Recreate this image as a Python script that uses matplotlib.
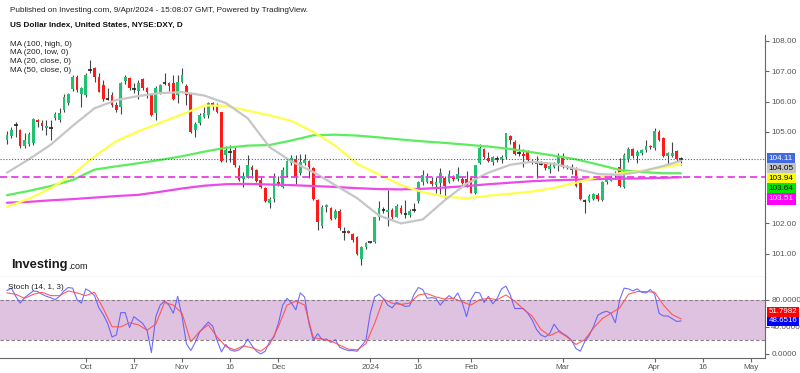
import matplotlib
matplotlib.use("Agg")
import matplotlib.pyplot as plt
import numpy as np
import pandas as pd

plt.rcParams["font.family"] = ["Liberation Sans", "DejaVu Sans"]

# daily DXY candles, 2023-09-06 .. 2024-04-09 (weekday bars)
first_day = "2023-09-06"
opens = [
    104.73, 104.88, 105.25, 105.06, 104.55, 104.60, 104.62, 105.39, 105.30, 105.12,
    105.14, 105.45, 105.39, 105.72, 105.94, 106.40, 106.82, 106.24, 106.21, 107.04,
    107.09, 106.82, 106.54, 106.10, 106.21, 105.89, 105.83, 106.67, 106.76, 106.43,
    106.35, 106.73, 106.43, 106.24, 105.61, 106.30, 106.60, 106.60, 106.60, 106.21,
    106.65, 106.52, 106.24, 105.06, 105.28, 105.50, 105.56, 105.94, 105.83, 105.64,
    104.24, 104.36, 104.40, 103.80, 103.45, 103.53, 103.86, 103.75, 103.42, 103.14,
    102.65, 102.79, 103.36, 103.20, 103.56, 103.97, 104.11, 103.64, 103.97, 104.04,
    103.80, 102.76, 101.92, 102.54, 102.49, 102.16, 102.40, 101.73, 101.74, 101.64,
    101.55, 100.81, 101.20, 101.36, 101.39, 102.19, 102.44, 102.38, 102.43, 102.21,
    102.49, 102.30, 102.26, 102.41, 102.74, 103.36, 103.36, 103.38, 103.25, 103.31,
    103.47, 103.36, 103.52, 103.44, 103.44, 103.44, 103.50, 102.98, 103.97, 104.43,
    104.13, 104.02, 104.13, 104.10, 104.16, 104.86, 104.68, 104.30, 104.28, 104.35,
    104.04, 103.97, 103.97, 103.97, 103.77, 103.86, 103.97, 104.13, 103.86, 103.86,
    103.80, 103.33, 102.75, 102.73, 102.78, 102.92, 102.76, 103.36, 103.40, 103.55,
    103.86, 103.20, 104.10, 104.43, 104.21, 104.30, 104.40, 104.54, 104.46, 105.01,
    104.79, 104.22, 104.21, 104.37, 104.14,
]
highs = [
    105.03, 105.17, 105.34, 105.10, 104.95, 105.01, 105.45, 105.41, 105.39, 105.39,
    105.39, 105.67, 105.78, 106.24, 106.27, 106.87, 106.87, 106.49, 106.93, 107.37,
    107.15, 106.93, 106.71, 106.43, 106.32, 105.99, 106.65, 106.87, 106.82, 106.60,
    106.71, 106.76, 106.49, 106.27, 106.52, 106.57, 106.93, 106.65, 106.87, 106.87,
    107.11, 106.57, 106.24, 105.34, 105.61, 105.83, 105.99, 106.00, 105.94, 105.67,
    104.55, 104.57, 104.55, 103.91, 103.69, 104.24, 103.91, 103.78, 103.53, 103.20,
    102.87, 103.64, 103.56, 103.86, 104.07, 104.24, 104.24, 104.26, 104.26, 104.07,
    103.86, 102.79, 102.60, 102.62, 102.54, 102.47, 102.47, 101.88, 101.76, 101.66,
    101.57, 101.25, 101.39, 101.38, 102.21, 102.74, 102.54, 103.09, 102.49, 102.62,
    102.60, 102.75, 102.47, 102.67, 103.39, 103.75, 103.66, 103.53, 103.52, 103.82,
    103.56, 103.75, 103.58, 103.86, 103.55, 103.70, 103.55, 103.92, 104.60, 104.48,
    104.35, 104.20, 104.20, 104.25, 104.98, 104.90, 104.75, 104.60, 104.45, 104.40,
    104.10, 104.20, 104.05, 104.00, 103.97, 104.02, 104.30, 104.32, 103.92, 103.95,
    103.85, 103.35, 102.80, 102.95, 103.00, 102.98, 103.40, 103.50, 103.65, 103.70,
    104.13, 104.30, 104.50, 104.48, 104.40, 104.45, 104.75, 104.58, 105.12, 105.05,
    104.82, 104.35, 104.68, 104.40, 104.19,
]
lows = [
    104.59, 104.81, 104.84, 104.46, 104.48, 104.55, 104.57, 105.17, 105.06, 104.90,
    104.73, 105.39, 105.34, 105.67, 105.89, 106.35, 106.32, 105.83, 106.16, 106.93,
    106.65, 106.30, 106.02, 106.05, 105.83, 105.67, 105.58, 106.57, 106.38, 106.27,
    106.07, 106.38, 106.13, 105.52, 105.39, 106.24, 106.54, 106.35, 106.05, 105.94,
    106.60, 105.90, 104.95, 104.84, 105.23, 105.45, 105.45, 105.72, 105.61, 104.02,
    104.00, 104.02, 103.86, 103.39, 103.20, 103.50, 103.47, 103.36, 103.14, 102.71,
    102.49, 102.71, 103.23, 103.17, 103.53, 103.91, 103.28, 103.58, 103.91, 103.50,
    102.76, 101.77, 101.83, 102.38, 102.10, 102.14, 101.77, 101.44, 101.66, 101.39,
    100.95, 100.62, 101.14, 101.34, 101.36, 102.10, 102.32, 101.92, 102.12, 102.19,
    102.30, 102.16, 102.20, 102.36, 102.67, 103.25, 103.33, 103.22, 102.98, 102.96,
    102.81, 103.31, 103.38, 103.40, 103.28, 103.20, 102.98, 102.95, 103.95, 104.10,
    104.00, 103.92, 104.00, 103.98, 104.10, 104.60, 104.25, 104.20, 103.85, 104.05,
    103.95, 103.47, 103.90, 103.75, 103.65, 103.80, 103.70, 103.82, 103.78, 103.60,
    103.20, 102.76, 102.34, 102.70, 102.75, 102.74, 102.72, 103.30, 103.38, 103.45,
    103.18, 103.15, 104.00, 104.15, 103.99, 104.25, 104.35, 104.45, 104.42, 104.70,
    104.18, 103.91, 104.18, 104.05, 103.91,
]
closes = [
    104.90, 105.06, 105.24, 104.55, 104.73, 104.92, 105.42, 105.34, 105.21, 105.21,
    105.13, 105.58, 105.61, 106.16, 106.24, 106.82, 106.38, 106.43, 106.89, 107.03,
    106.82, 106.32, 106.07, 106.09, 105.89, 105.72, 106.60, 106.82, 106.43, 106.42,
    106.60, 106.43, 106.32, 105.56, 106.43, 106.54, 106.61, 106.52, 106.10, 106.65,
    106.89, 106.20, 105.01, 105.25, 105.56, 105.61, 105.94, 105.86, 105.67, 104.04,
    104.40, 104.35, 103.91, 103.42, 103.56, 103.91, 103.75, 103.39, 103.20, 102.73,
    102.79, 103.47, 103.25, 103.75, 104.04, 104.15, 103.53, 104.02, 104.07, 103.86,
    102.81, 102.05, 102.54, 102.60, 102.14, 102.40, 101.83, 101.72, 101.68, 101.44,
    100.97, 101.20, 101.33, 101.37, 102.19, 102.50, 102.43, 102.44, 102.19, 102.56,
    102.34, 102.29, 102.41, 102.42, 103.36, 103.58, 103.55, 103.29, 103.36, 103.64,
    103.22, 103.60, 103.44, 103.61, 103.31, 103.25, 103.00, 103.91, 104.46, 104.18,
    104.05, 104.16, 104.12, 104.16, 104.95, 104.73, 104.29, 104.31, 104.22, 104.08,
    103.99, 103.93, 103.96, 103.80, 103.88, 103.99, 104.21, 103.86, 103.80, 103.75,
    103.22, 102.78, 102.74, 102.89, 102.96, 102.78, 103.36, 103.44, 103.47, 103.58,
    103.23, 104.25, 104.45, 104.21, 104.35, 104.40, 104.54, 104.49, 105.04, 104.75,
    104.21, 104.30, 104.30, 104.10, 104.11,
]

# moving averages read every 5 bars
ma_bars = list(range(0, 151, 5)) + [154]
ma_gray = [103.66, 104.10, 104.58, 105.20, 105.78, 106.05, 106.18, 106.28, 106.31, 106.20,
           105.95, 105.45, 104.50, 104.03, 103.68, 103.25, 102.82, 102.25, 101.99, 102.12,
           102.75, 103.30, 103.66, 103.92, 104.02, 103.95, 103.78, 103.62, 103.58, 103.70,
           103.88, 104.05]
ma_yellow = [102.54, 102.80, 103.15, 103.60, 104.20, 104.70, 105.02, 105.30, 105.58, 105.87,
             105.86, 105.70, 105.55, 105.36, 105.00, 104.55, 103.95, 103.60, 103.25, 103.02,
             102.87, 102.82, 102.90, 102.97, 103.04, 103.16, 103.33, 103.52, 103.64, 103.72,
             103.84, 103.94]
ma_green = [102.92, 103.06, 103.22, 103.42, 103.76, 103.87, 103.97, 104.08, 104.20, 104.35,
            104.48, 104.55, 104.57, 104.72, 104.89, 104.91, 104.88, 104.82, 104.75, 104.69,
            104.64, 104.58, 104.52, 104.44, 104.33, 104.22, 104.10, 103.93, 103.75, 103.68,
            103.64, 103.64]
ma_magenta = [102.67, 102.70, 102.75, 102.79, 102.84, 102.89, 102.93, 103.03, 103.14, 103.23,
              103.28, 103.29, 103.27, 103.25, 103.22, 103.19, 103.15, 103.12, 103.11, 103.13,
              103.17, 103.22, 103.28, 103.33, 103.38, 103.41, 103.43, 103.45, 103.46, 103.47,
              103.49, 103.51]
ma_names = ["MA (100, high, 0)", "MA (200, low, 0)", "MA (20, close, 0)", "MA (50, close, 0)"]

# stochastic %K (every bar) and %D (every second bar)
stoch_k = [
    93.5, 97, 85, 75, 83, 88, 93, 92, 88, 85, 83, 80, 85, 93, 98, 97, 80, 75, 96, 92,
    86, 68, 58, 45, 25, 28, 61, 61, 39, 55, 50, 45, 35, 2, 55, 72, 78, 72, 60, 85,
    55, 15, 5, 17, 32, 40, 47, 41, 20, 3, 14, 6, 4, 6, 11, 22, 12, 4, 0, 4,
    18, 25, 45, 72, 82, 75, 65, 90, 84, 45, 20, 30, 21, 22, 17, 21, 10, 7, 5, 5,
    4, 12, 20, 60, 84, 88, 82, 72, 68, 76, 73, 70, 71, 88, 98, 95, 82, 83, 82, 72,
    80, 86, 81, 90, 76, 55, 80, 91, 90, 76, 85, 74, 82, 96, 100, 87, 67, 67, 67, 60,
    50, 36, 28, 25, 30, 44, 35, 30, 26, 20, 8, 4, 18, 27, 40, 57, 61, 63, 60, 46,
    80, 97, 96, 93, 96, 91, 90, 95, 88, 60, 56, 56, 52, 48, 48.65,
]
stoch_d = [
    90, 88, 82, 88, 91, 86, 86, 93, 90, 86, 91, 67, 40, 40, 46, 43, 35, 44, 76, 72,
    60, 18, 33, 43, 25, 11, 6, 12, 9, 4, 14, 40, 72, 78, 72, 24, 22, 19, 13, 7,
    6, 15, 45, 81, 75, 73, 75, 87, 89, 84, 81, 82, 77, 72, 80, 82, 80, 87, 78, 66,
    56, 36, 27, 33, 25, 14, 21, 38, 52, 60, 68, 88, 92, 92, 91, 72, 58, 51.80,
]

tick_dates = ["2023-10-02", "2023-10-17", "2023-11-01", "2023-11-16", "2023-12-01", "2024-01-01",
              "2024-01-16", "2024-02-01", "2024-03-01", "2024-04-01", "2024-04-16", "2024-05-01"]
tick_labels = ["Oct", "17", "Nov", "16", "Dec", "2024", "16", "Feb", "Mar", "Apr", "16", "May"]

price_tags = [104.11, 104.05, 103.94, 103.64, 103.51]
tag_faces = ["#4169e1", "#c4c4c4", "#ffff00", "#00e600", "#ff00ff"]
tag_fonts = ["white", "black", "black", "black", "white"]
stoch_tags = [48.6516, 51.7982]
stoch_faces = ["#0000ff", "#ff0000"]

GREEN, RED = "#22c172", "#ff1a1a"
FS = 5.9
W, H = 800, 373

fig = plt.figure(figsize=(W / 100, H / 100), dpi=100)


def px_axes(x0, y0, x1, y1):
    return fig.add_axes([x0 / W, 1 - y1 / H, (x1 - x0) / W, (y1 - y0) / H])


ax = px_axes(0, 35, 765, 277)
axs = px_axes(0, 277, 765, 358)

days = pd.bdate_range(first_day, "2024-05-10")
x = np.arange(len(closes))
o, h, l, c = map(np.array, (opens, highs, lows, closes))
up = c > o + 0.035
dn = c < o - 0.035
flat = ~(up | dn)

# candles
ax.vlines(x, l, h, color="#454545", lw=0.8, zorder=2)
ax.bar(x[up], (c - o)[up], bottom=o[up], width=0.62, color=GREEN, lw=0, zorder=3)
ax.bar(x[dn], (c - o)[dn], bottom=o[dn], width=0.62, color=RED, lw=0, zorder=3)
ax.hlines(c[flat], x[flat] - 0.4, x[flat] + 0.4, color="#222222", lw=1.2, zorder=3)

# moving averages
for vals, col in ((ma_magenta, "#ea4aea"), (ma_green, "#5cec5c"),
                  (ma_yellow, "#ffff4a"), (ma_gray, "#c6c6c6")):
    ax.plot(ma_bars, vals, color=col, lw=1.6, zorder=4, solid_capstyle="round")

ax.axhline(price_tags[0], color="#3a5ad8", ls=(0, (1, 1.6)), lw=0.8, zorder=5)
ax.axhline(price_tags[-1], color="#e83ee8", ls=(0, (4, 2.2)), lw=1.3, zorder=5)

xlim = (-1.6, 173.2)
ax.set_xlim(xlim)
ax.set_ylim(100.227, 108.19)
ax.yaxis.tick_right()
ax.set_yticks([101, 102, 105, 106, 107, 108])
ax.set_yticklabels([f"{v:.2f}" for v in [101, 102, 105, 106, 107, 108]])
ax.tick_params(axis="y", labelsize=FS, colors="#666666", labelcolor="#555555", length=3, width=0.8, pad=1.5)
ax.set_xticks([])
for s in ("top", "left"):
    ax.spines[s].set_visible(False)
ax.spines["right"].set_color("#666666")
ax.spines["bottom"].set_color("#777777")

trans = ax.get_yaxis_transform()
for k, (fc, tc) in enumerate(zip(tag_faces, tag_fonts)):
    ax.annotate(f"{price_tags[k]:.2f}", xy=(1, price_tags[0]), xycoords=trans,
                xytext=(2.6, -7.2 * k), textcoords="offset points", va="center", ha="left",
                fontsize=FS, color=tc, annotation_clip=False, zorder=10,
                bbox=dict(boxstyle="square,pad=0.25", fc=fc, ec="none"))

# stochastic panel
axs.axhspan(20, 80, color="#dfc2df", lw=0, zorder=0)
axs.axhline(80, color="#8a7a8a", ls=(0, (3, 2)), lw=0.8, zorder=1)
axs.axhline(20, color="#8a7a8a", ls=(0, (3, 2)), lw=0.8, zorder=1)
axs.plot(x, stoch_k, color="#5555ff", lw=0.8, alpha=0.85, zorder=3)
axs.plot(x[::2], stoch_d, color="#ff4d4d", lw=0.8, alpha=0.9, zorder=3)
axs.set_xlim(xlim)
axs.set_ylim(-6, 113.5)
axs.yaxis.tick_right()
axs.set_yticks([0, 40, 80])
axs.set_yticklabels(["0.0000", "40.0000", "80.0000"])
axs.tick_params(axis="y", labelsize=FS, colors="#666666", labelcolor="#555555", length=3, width=0.8, pad=1.5)
tick_pos = [days.get_loc(pd.Timestamp(d)) for d in tick_dates]
axs.set_xticks(tick_pos)
axs.set_xticklabels(tick_labels)
axs.tick_params(axis="x", labelsize=FS, colors="#666666", labelcolor="#555555", length=3, width=0.8, pad=1.5)
for s in ("top", "left"):
    axs.spines[s].set_visible(False)
axs.spines["right"].set_color("#666666")
axs.spines["bottom"].set_color("#666666")
axs.text(8 / 765, 0.87, "Stoch (14, 1, 3)", transform=axs.transAxes, fontsize=FS,
         color="#222222", va="center", ha="left")

strans = axs.get_yaxis_transform()
for k, fc in enumerate(stoch_faces):
    axs.annotate(f"{stoch_tags[k]:.4f}", xy=(1, stoch_tags[0]), xycoords=strans,
                 xytext=(2.4, 6.6 * k), textcoords="offset points", va="center", ha="left",
                 fontsize=FS - 0.2, color="white", annotation_clip=False, zorder=10,
                 bbox=dict(boxstyle="square,pad=0.2", fc=fc, ec="none"))

# header texts
fig.text(10 / W, 1 - 10 / H, "Published on Investing.com, 9/Apr/2024 - 15:08:07 GMT, Powered by TradingView.",
         fontsize=FS, color="#222222", va="center", ha="left")
fig.text(10 / W, 1 - 25 / H, "US Dollar Index, United States, NYSE:DXY, D",
         fontsize=FS, color="#111111", va="center", ha="left", fontweight="bold")
for k, name in enumerate(ma_names):
    fig.text(10 / W, 1 - (44 + 8.7 * k) / H, name, fontsize=FS, color="#222222",
             va="center", ha="left")

fig.text(11 / W, 1 - 265 / H, "Investing", fontsize=9.3, fontweight="bold",
         color="#1a1a1a", va="center", ha="left")
fig.text(68 / W, 1 - 266.5 / H, ".com", fontsize=6.5, color="#1a1a1a", va="center", ha="left")

fig.savefig("out.png", dpi=100, facecolor="white")
